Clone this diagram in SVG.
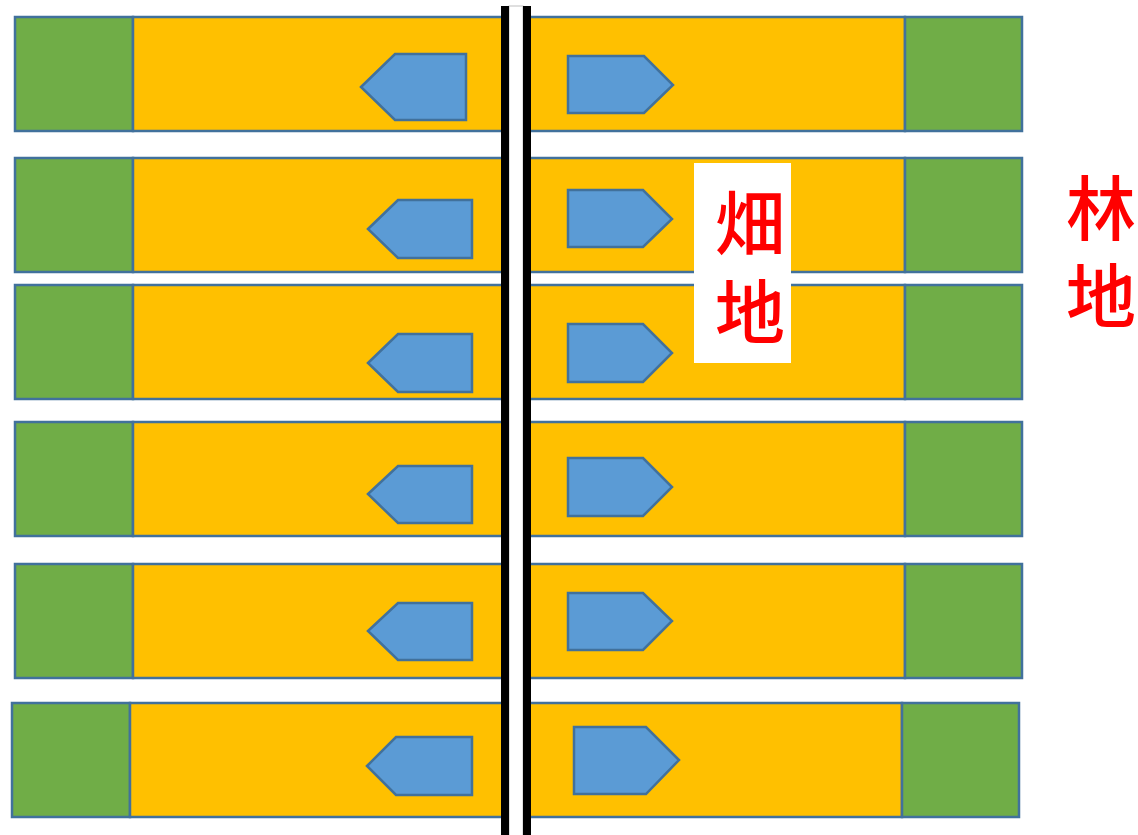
<svg xmlns="http://www.w3.org/2000/svg" width="1138" height="835" viewBox="0 0 1138 835">
<style>
.g{fill:#70AD47;stroke:#41719C;stroke-width:2.5}
.y{fill:#FFC000;stroke:#41719C;stroke-width:2.5}
.a{fill:#5B9BD5;stroke:#41719C;stroke-width:2.5;stroke-linejoin:miter}
.t{font-family:"Noto Sans CJK SC","Noto Sans CJK JP",sans-serif;font-size:70px;font-weight:500;fill:#FF0000;text-anchor:middle}
</style>
<rect width="1138" height="835" fill="#FFFFFF"/>
<g id="row1">
<rect class="g" x="15" y="17" width="118" height="114"/>
<rect class="y" x="133" y="17" width="377" height="114"/>
<rect class="y" x="520" y="17" width="385" height="114"/>
<rect class="g" x="905" y="17" width="117" height="114"/>
<polygon class="a" points="361,87 395,54 466,54 466,120 395,120"/>
<polygon class="a" points="568,56 644,56 673,85 644,113 568,113"/>
</g>
<g id="row2">
<rect class="g" x="15" y="158" width="118" height="114"/>
<rect class="y" x="133" y="158" width="377" height="114"/>
<rect class="y" x="520" y="158" width="385" height="114"/>
<rect class="g" x="905" y="158" width="117" height="114"/>
<polygon class="a" points="368,229 398,200 472,200 472,258 398,258"/>
<polygon class="a" points="568,190 643,190 672,219 643,247 568,247"/>
</g>
<g id="row3">
<rect class="g" x="15" y="285" width="118" height="114"/>
<rect class="y" x="133" y="285" width="377" height="114"/>
<rect class="y" x="520" y="285" width="385" height="114"/>
<rect class="g" x="905" y="285" width="117" height="114"/>
<polygon class="a" points="368,363 398,334 472,334 472,392 398,392"/>
<polygon class="a" points="568,324 643,324 672,353 643,382 568,382"/>
</g>
<g id="row4">
<rect class="g" x="15" y="422" width="118" height="114"/>
<rect class="y" x="133" y="422" width="377" height="114"/>
<rect class="y" x="520" y="422" width="385" height="114"/>
<rect class="g" x="905" y="422" width="117" height="114"/>
<polygon class="a" points="368,494 398,466 472,466 472,523 398,523"/>
<polygon class="a" points="568,458 643,458 672,487 643,516 568,516"/>
</g>
<g id="row5">
<rect class="g" x="15" y="564" width="118" height="114"/>
<rect class="y" x="133" y="564" width="377" height="114"/>
<rect class="y" x="520" y="564" width="385" height="114"/>
<rect class="g" x="905" y="564" width="117" height="114"/>
<polygon class="a" points="368,631 398,603 472,603 472,660 398,660"/>
<polygon class="a" points="568,593 643,593 672,621 643,650 568,650"/>
</g>
<g id="row6">
<rect class="g" x="12" y="703" width="118" height="114"/>
<rect class="y" x="130" y="703" width="380" height="114"/>
<rect class="y" x="520" y="703" width="382" height="114"/>
<rect class="g" x="902" y="703" width="117" height="114"/>
<polygon class="a" points="367,766 396,737 472,737 472,795 396,795"/>
<polygon class="a" points="574,727 646,727 679,760 646,794 574,794"/>
</g>
<g id="road">
<rect x="509" y="6" width="14" height="840" fill="#FFFFFF" stroke="#C0C0C0" stroke-width="1"/>
<rect x="501" y="6" width="8" height="840" fill="#000000"/>
<rect x="523" y="6" width="8" height="840" fill="#000000"/>
</g>
<g id="label-field">
<rect x="694" y="163" width="97" height="200" fill="#FFFFFF"/>
<text class="t"><tspan x="750" y="250">畑</tspan><tspan x="750" y="339">地</tspan></text>
</g>
<g id="label-forest">
<text class="t"><tspan x="1101" y="235">林</tspan><tspan x="1101" y="323">地</tspan></text>
</g>
<g id="connectors"/>
</svg>
